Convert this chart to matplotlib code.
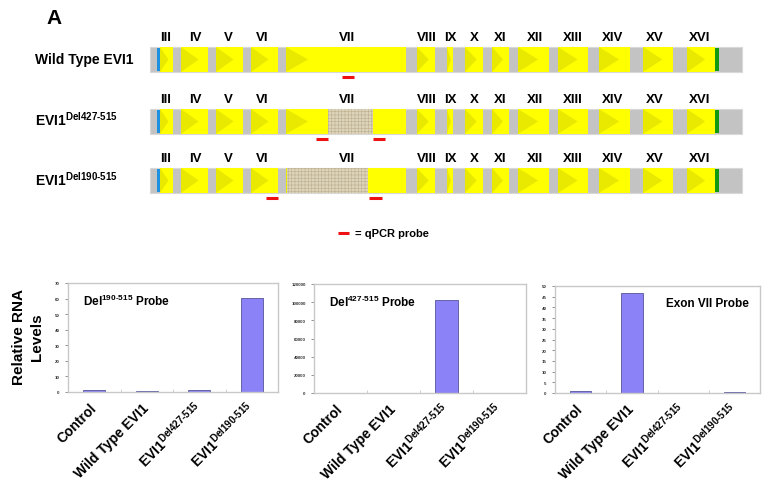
import matplotlib
matplotlib.use('Agg')
import matplotlib.pyplot as plt
from matplotlib.patches import Rectangle, Polygon

plt.rcParams['font.family'] = ['Liberation Sans', 'DejaVu Sans']
plt.rcParams['font.weight'] = 'bold'
plt.rcParams['mathtext.fontset'] = 'custom'
plt.rcParams['mathtext.rm'] = 'Liberation Sans:bold'
plt.rcParams['mathtext.it'] = 'Liberation Sans:bold'
plt.rcParams['mathtext.bf'] = 'Liberation Sans:bold'
plt.rcParams['hatch.linewidth'] = 0.5

# ---- gene diagram data (pixel positions along the construct) ----
exon_names = ['III', 'IV', 'V', 'VI', 'VII', 'VIII', 'IX', 'X', 'XI', 'XII',
              'XIII', 'XIV', 'XV', 'XVI']
exon_label_x = [166, 195, 228, 262, 347, 427, 450, 474, 500, 535, 573, 613, 655, 700]
exon_starts = [160, 181, 216, 251, 286, 417, 447, 465, 492, 518, 558, 599, 643, 687]
exon_ends = [173, 208, 243, 278, 406, 435, 453, 483, 509, 549, 588, 630, 673, 715]
gene_start, gene_end = 150, 742
start_codon = (157, 160)
stop_codon = (715, 719)

constructs = ['Wild Type EVI1', 'EVI1$^{Del427\u2010515}$', 'EVI1$^{Del190\u2010515}$']
deletions = [None, (328, 373), (287, 368)]
probes = [[(342, 354)], [(316, 328), (373, 385)], [(266, 278), (369, 382)]]

# ---- qPCR data ----
samples = ['Control', 'Wild Type EVI1', 'EVI1$^{Del427\u2010515}$', 'EVI1$^{Del190\u2010515}$']
del190_probe = [1.0, 0.8, 1.3, 60.2]
del427_probe = [0, 0, 102000, 0]
exon7_probe = [1.0, 46.5, 0, 0.3]

W, H = 763, 502
fig = plt.figure(figsize=(W / 100, H / 100), dpi=100)
fig.patch.set_facecolor('white')

canvas = fig.add_axes([0, 0, 1, 1])
canvas.set_xlim(0, W)
canvas.set_ylim(H, 0)
canvas.axis('off')

canvas.text(46, 18, 'A', fontsize=15, fontweight='bold', va='center', ha='left')

row_top = [48, 110, 169]
row_label_y = [60, 120, 180]
bar_h = 25
for r in range(3):
    y0 = row_top[r]
    canvas.add_patch(Rectangle((gene_start, y0), gene_end - gene_start, bar_h,
                               facecolor='#c3c3c3', edgecolor='#d8d8d8', lw=0.8))
    for s, e in zip(exon_starts, exon_ends):
        canvas.add_patch(Rectangle((s, y0), e - s, bar_h, facecolor='#ffff00', lw=0))
        tip = min(0.65 * (e - s), 22)
        canvas.add_patch(Polygon([(s, y0), (s + tip, y0 + bar_h / 2), (s, y0 + bar_h)],
                                 closed=True, facecolor='#e9e900', lw=0))
    canvas.add_patch(Rectangle((start_codon[0], y0 + 1), start_codon[1] - start_codon[0],
                               bar_h - 2, facecolor='#1e90e0', lw=0))
    canvas.add_patch(Rectangle((stop_codon[0], y0 + 1), stop_codon[1] - stop_codon[0],
                               bar_h - 2, facecolor='#119911', lw=0))
    if deletions[r] is not None:
        d0, d1 = deletions[r]
        canvas.add_patch(Rectangle((d0, y0), d1 - d0, bar_h, facecolor='#ddd4bc',
                                   edgecolor='#c2b596', hatch='+++++', lw=0))
    for p0, p1 in probes[r]:
        canvas.plot([p0, p1], [y0 + bar_h + 5, y0 + bar_h + 5], color='#ee1111', lw=2.2,
                    solid_capstyle='butt')
    for name, lx in zip(exon_names, exon_label_x):
        canvas.text(lx, y0 - 10, name, fontsize=9.5, fontweight='bold', ha='center', va='center')
    canvas.text(35, row_label_y[r], constructs[r], fontsize=10, fontweight='bold',
                ha='left', va='center')

canvas.plot([338, 349], [234, 234], color='#ee1111', lw=2.2, solid_capstyle='butt')
canvas.text(355, 234, '= qPCR probe', fontsize=8, fontweight='bold', ha='left', va='center')


def px_axes(x0, y0, x1, y1):
    return fig.add_axes([x0 / W, 1 - y1 / H, (x1 - x0) / W, (y1 - y0) / H])


panels = [
    (px_axes(68, 284, 278, 393), del190_probe, 70, 10, 'Del$^{190\u2010515}$ Probe', 0.07),
    (px_axes(314, 285, 526, 394), del427_probe, 120000, 20000, 'Del$^{427\u2010515}$ Probe', 0.07),
    (px_axes(555, 287, 760, 394), exon7_probe, 50, 5, 'Exon VII Probe', 0.54),
]

for ax, vals, ymax, step, title, tx in panels:
    xs = range(len(samples))
    ax.bar(xs, vals, width=0.42, color='#8a82f6', edgecolor='#55559a', lw=0.6)
    ax.set_xlim(-0.5, len(samples) - 0.5)
    ax.set_ylim(0, ymax)
    ax.set_yticks(range(0, ymax + 1, step))
    ax.tick_params(axis='y', labelsize=3.2, length=2, width=0.5, colors='#666666',
                   labelcolor='#333333', pad=4)
    ax.set_xticks(list(xs))
    ax.set_xticklabels([])
    ax.tick_params(axis='x', length=0)
    ax.set_xticks([i + 0.5 for i in range(len(samples) - 1)], minor=True)
    ax.tick_params(axis='x', which='minor', length=2, width=0.5, color='#bbbbbb', direction='in')
    for sp in ax.spines.values():
        sp.set_color('#c8c8c8')
        sp.set_linewidth(1.0)
    ax.text(tx, 0.84, title, transform=ax.transAxes, fontsize=8.5, fontweight='bold',
            ha='left', va='center')
    for i, lab in enumerate(samples):
        ax.annotate(lab, xy=(i, 0), xycoords='data', xytext=(0, -13),
                    textcoords='offset pixels', rotation=45, rotation_mode='anchor',
                    ha='right', va='center', fontsize=10, fontweight='bold')

fig.text(28 / W, 1 - 337 / H, 'Relative RNA\nLevels', rotation=90, fontsize=11,
         fontweight='bold', ha='center', va='center', multialignment='center',
         linespacing=1.35)

fig.savefig('out.png', dpi=100)
